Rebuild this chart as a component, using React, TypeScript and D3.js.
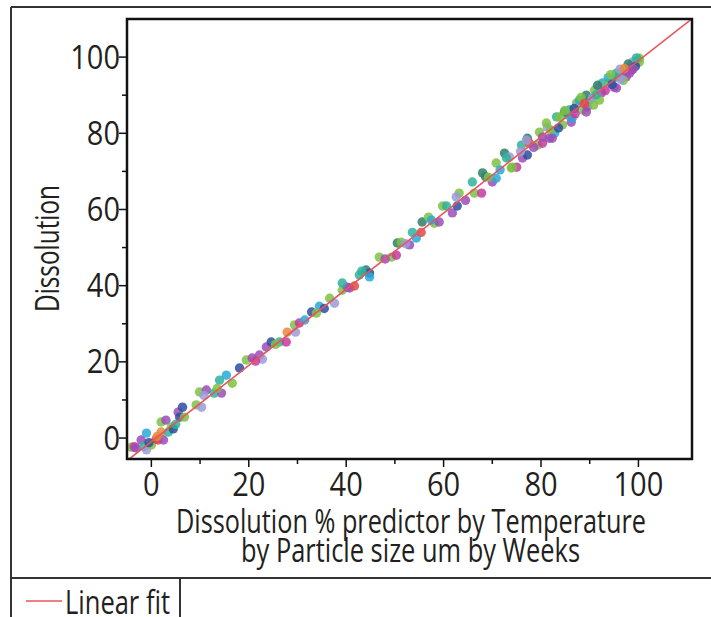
import React from "react";
import * as d3 from "d3";

// Predicted (x) vs actual (y) dissolution, with group colour key
const predicted = [
  -4.1, -3.5, -3.1, -2.1, -1.5, -1.0, -1.0, 0.0, 1.0, 1.4, 2.0, 2.5, 3.5, 2.0, 3.0, 4.1, 4.5, 5.5, 6.4, 5.8, 6.8,
  9.2, 10.3, 9.9, 11.3, 12.9, 14.4, 14.0, 15.4, 16.6,
  18.1, 19.5, 20.7, 22.2, 22.8, 23.6, 24.6, 26.3, 27.7, 27.9, 29.4, 30.4, 29.6, 32.9, 34.5, 33.9, 36.6, 37.6, 39.2, 40.2,
  39.2, 40.7, 41.7, 42.7, 44.1, 44.8, 44.8, 46.8, 49.3, 50.3, 50.5, 51.3, 53.0, 53.6, 54.4, 55.4, 55.6, 56.9, 58.1, 59.1, 59.8, 60.6, 61.8, 62.8,
  63.2, 62.6, 66.3, 67.8, 65.9, 68.0, 68.6, 70.0, 70.8, 70.8, 72.5, 73.5, 73.9, 75.0, 76.2, 77.2, 76.0, 77.2, 77.6, 79.3, 80.3, 79.7, 81.3, 81.7, 82.8, 83.2, 84.4, 85.4,
  80.3, 81.1, 82.0, 86.2, 86.4, 84.8, 85.8, 87.3, 87.8, 88.5, 89.5, 89.9, 89.3, 91.0, 92.4, 92.6, 94.0, 95.0, 95.5, 96.7, 97.5, 98.2, 99.2, 99.8, 100.2,
  72.9, 77.0, 83.8, 87.9, 92.0, 95.5, 98.8, 74.1, 82.3, 89.3, 92.0, 95.5, 98.2, 100.2,
  86.8, 88.2, 90.5, 91.6, 93.2, 93.8, 94.6, 96.2, 96.9, 97.9, 98.6, 99.4, 99.6, 97.1, 90.8, 88.9,
  -0.5, 1.2, 5.0, 10.8, 13.5, 21.4, 25.5, 31.5, 35.5, 43.2, 48.0, 52.2, 57.5, 64.5, 69.2, 71.6, 75.8, 78.5, 83.6, 84.9, 87.0, 91.3, 94.3, 96.4, 98.9,
];
const actual = [
  -2.4, -2.3, -2.6, -0.5, -2.2, 1.3, -3.1, -1.8, -0.3, -0.5, 1.6, -0.5, 1.6, 4.2, 4.7, 2.9, 2.4, 6.8, 8.1, 5.5, 5.5,
  8.7, 8.1, 12.1, 12.6, 11.8, 11.8, 15.2, 16.5, 14.4,
  18.4, 20.5, 21.0, 21.8, 20.7, 23.9, 25.2, 25.2, 25.2, 27.8, 29.7, 30.2, 27.8, 33.1, 34.6, 32.8, 36.7, 35.4, 38.8, 39.6,
  40.7, 39.4, 39.9, 42.8, 44.1, 43.3, 42.3, 47.5, 47.5, 48.0, 51.2, 51.4, 50.7, 54.0, 52.5, 54.0, 56.7, 58.0, 56.4, 56.7, 60.9, 60.9, 59.1, 60.9,
  64.3, 63.3, 64.3, 64.3, 67.2, 69.6, 68.6, 67.2, 68.2, 72.2, 74.8, 73.8, 70.9, 71.1, 73.5, 74.3, 76.9, 78.7, 77.4, 76.9, 77.4, 80.3, 81.6, 78.7, 80.0, 84.3, 82.2, 84.8,
  79.0, 82.7, 80.8, 82.9, 84.0, 85.6, 86.1, 87.9, 88.2, 86.1, 86.9, 88.7, 90.0, 91.3, 90.6, 93.2, 93.4, 92.1, 94.8, 95.8, 94.8, 97.4, 98.4, 99.2, 99.7,
  73.5, 78.2, 84.3, 88.7, 92.1, 95.8, 98.7, 71.1, 78.7, 85.6, 88.7, 91.9, 95.8, 98.7,
  86.5, 89.4, 89.2, 92.6, 91.2, 94.6, 92.8, 96.8, 93.9, 98.2, 96.6, 97.6, 99.8, 97.0, 87.4, 87.8,
  -1.2, 0.4, 3.6, 11.2, 13.0, 20.2, 24.6, 31.0, 34.0, 43.8, 47.0, 51.0, 57.2, 62.4, 68.5, 70.4, 75.2, 76.3, 81.4, 86.0, 85.1, 90.1, 95.4, 94.2, 96.9,
];
const group = [
  "g", "m", "p", "p", "t", "c", "l", "g", "r", "r", "o", "p", "t", "g", "p", "g", "b", "p", "b", "b", "g",
  "g", "l", "g", "p", "t", "p", "t", "c", "g",
  "b", "g", "p", "p", "l", "p", "b", "t", "m", "o", "g", "m", "l", "b", "c", "g", "g", "l", "g", "p",
  "t", "p", "r", "t", "dg", "b", "c", "g", "g", "m", "dg", "g", "p", "t", "c", "r", "dg", "g", "g", "p", "g", "t", "p", "b",
  "g", "l", "g", "m", "t", "dg", "dg", "p", "c", "g", "dg", "l", "g", "m", "p", "b", "t", "dg", "r", "g", "m", "g", "l", "p", "c", "t", "g", "t",
  "p", "g", "g", "p", "c", "dg", "t", "g", "l", "g", "p", "c", "dg", "g", "p", "t", "g", "p", "dg", "g", "p", "t", "g", "l", "g",
  "t", "l", "g", "t", "l", "t", "l", "g", "p", "p", "g", "p", "p", "g",
  "b", "g", "l", "dg", "m", "c", "b", "l", "g", "dg", "m", "b", "t", "o", "g", "r",
  "b", "o", "t", "l", "g", "m", "g", "c", "b", "t", "p", "l", "c", "p", "g", "c", "l", "p", "b", "g", "m", "t", "g", "l", "p",
];
const groupColors: Record<string, string> = {
  g: "#7cc243",
  p: "#9b4db8",
  b: "#2d4f9f",
  t: "#2db39a",
  c: "#28a9d9",
  l: "#9b9bd8",
  o: "#e68a3b",
  r: "#e14a4a",
  m: "#c53b9e",
  dg: "#2f7e6b",
};
const xTicks = [0, 20, 40, 60, 80, 100];
const yTicks = [0, 20, 40, 60, 80, 100];
const minorTicks = [10, 30, 50, 70, 90];
const fitSlope = 1.0;
const fitIntercept = -0.95;
const xTitle = ["Dissolution % predictor by Temperature", "by Particle size um by Weeks"];
const yTitle = "Dissolution";
const legendLabel = "Linear fit";

const FONT = "'Open Sans', 'Noto Sans', sans-serif";

export default function App() {
  const left = 127, right = 692, top = 19, bottom = 459;
  const x = d3.scaleLinear().domain([-5, 111]).range([left, right]);
  const y = d3.scaleLinear().domain([-5.5, 110]).range([bottom, top]);
  const fitLine = d3.line<number>().x((v) => x(v)).y((v) => y(fitSlope * v + fitIntercept));
  const textColor = "#231f20";
  const fs = 32;
  const digitW = 16.6;

  return (
    <svg
      width={711}
      height={617}
      style={{ position: "absolute", left: 0, top: 0, background: "#fff" }}
      fontFamily={FONT}
    >
      <defs>
        <clipPath id="plotClip">
          <rect x={left} y={top} width={right - left} height={bottom - top} />
        </clipPath>
      </defs>
      <rect x={0} y={0} width={711} height={617} fill="#fff" />
      {/* outer frame */}
      <line x1={11} y1={7} x2={711} y2={7} stroke="#333" strokeWidth={2} />
      <line x1={11} y1={7} x2={11} y2={617} stroke="#333" strokeWidth={2} />
      <line x1={11} y1={578} x2={711} y2={578} stroke="#333" strokeWidth={2} />
      <line x1={180} y1={578} x2={180} y2={617} stroke="#333" strokeWidth={2} />

      {/* points */}
      <g clipPath="url(#plotClip)">
        {predicted.map((px, i) => (
          <circle
            key={i}
            cx={x(px)}
            cy={y(actual[i])}
            r={4.7}
            fill={groupColors[group[i]]}
            fillOpacity={0.85}
          />
        ))}
        <path d={fitLine([-6, 112]) || ""} stroke="#e8545a" strokeWidth={1.6} fill="none" />
      </g>

      {/* plot frame */}
      <rect x={left} y={top} width={right - left} height={bottom - top} fill="none" stroke="#111" strokeWidth={2.5} />

      {/* y axis ticks */}
      {yTicks.map((t) => {
        const w = String(t).length * digitW;
        return (
          <g key={"y" + t}>
            <line x1={left - 8} x2={left} y1={y(t)} y2={y(t)} stroke="#111" strokeWidth={1.5} />
            <text
              x={left - 7 - w}
              y={y(t)}
              dy="0.36em"
              fontSize={fs}
              fill={textColor}
              textLength={w}
              lengthAdjust="spacingAndGlyphs"
            >
              {t}
            </text>
          </g>
        );
      })}
      {minorTicks.map((t) => (
        <line key={"ym" + t} x1={left - 5} x2={left} y1={y(t)} y2={y(t)} stroke="#111" strokeWidth={1.5} />
      ))}
      {/* x axis ticks */}
      {xTicks.map((t) => {
        const w = String(t).length * digitW;
        return (
          <g key={"x" + t}>
            <line x1={x(t)} x2={x(t)} y1={bottom} y2={bottom + 8} stroke="#111" strokeWidth={1.5} />
            <text
              x={x(t) - w / 2}
              y={496}
              fontSize={fs}
              fill={textColor}
              textLength={w}
              lengthAdjust="spacingAndGlyphs"
            >
              {t}
            </text>
          </g>
        );
      })}
      {minorTicks.map((t) => (
        <line key={"xm" + t} x1={x(t)} x2={x(t)} y1={bottom} y2={bottom + 5} stroke="#111" strokeWidth={1.5} />
      ))}

      {/* titles */}
      <text x={176} y={533} fontSize={fs} fill={textColor} textLength={470} lengthAdjust="spacingAndGlyphs">
        {xTitle[0]}
      </text>
      <text x={241} y={562} fontSize={fs} fill={textColor} textLength={339} lengthAdjust="spacingAndGlyphs">
        {xTitle[1]}
      </text>
      <text
        transform={`translate(59, 312) rotate(-90)`}
        fontSize={fs}
        fill={textColor}
        textLength={127}
        lengthAdjust="spacingAndGlyphs"
      >
        {yTitle}
      </text>

      {/* legend */}
      <line x1={26} x2={62} y1={601} y2={601} stroke="#e8545a" strokeWidth={1.6} />
      <text x={65} y={614} fontSize={fs} fill={textColor} textLength={105} lengthAdjust="spacingAndGlyphs">
        {legendLabel}
      </text>
    </svg>
  );
}
